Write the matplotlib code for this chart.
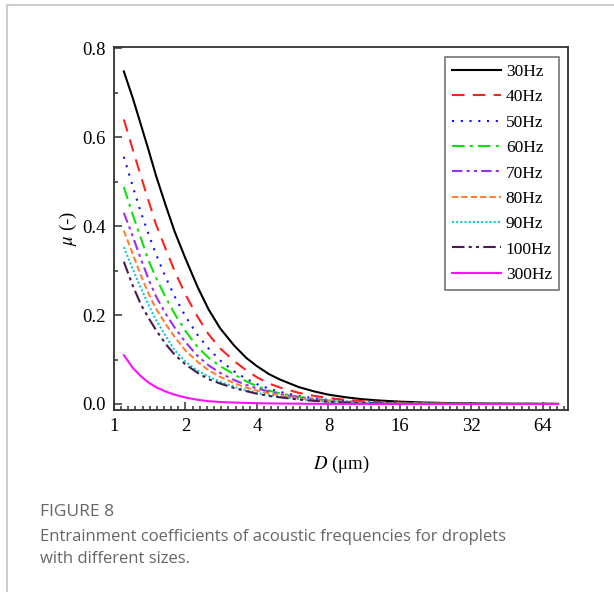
import matplotlib.pyplot as plt
import numpy as np
from matplotlib.ticker import FixedLocator, FixedFormatter, NullFormatter

serif = ["Liberation Serif", "DejaVu Serif"]
plt.rcParams["font.family"] = serif
plt.rcParams["mathtext.fontset"] = "stix"

# droplet diameters (um) at which the curves were read
D = [1.1, 1.2, 1.3, 1.4, 1.5, 1.65, 1.8, 2, 2.25, 2.5, 2.8, 3.2, 3.6, 4, 4.5,
     5, 6, 7, 8, 9.5, 11, 13, 16, 20, 24, 32, 48, 64, 74]

labels = ["30Hz", "40Hz", "50Hz", "60Hz", "70Hz", "80Hz", "90Hz", "100Hz", "300Hz"]

mu_30 = [0.748, 0.688, 0.627, 0.570, 0.515, 0.447, 0.388, 0.327, 0.263, 0.213,
         0.170, 0.132, 0.104, 0.085, 0.067, 0.055, 0.038, 0.028, 0.021, 0.015,
         0.011, 0.008, 0.0053, 0.0034, 0.0024, 0.0013, 0.0006, 0.0003, 0.00025]
mu_40 = [0.640, 0.572, 0.511, 0.456, 0.405, 0.349, 0.299, 0.246, 0.196, 0.157,
         0.125, 0.097, 0.076, 0.060, 0.046, 0.037, 0.025, 0.018, 0.0135, 0.0092,
         0.0066, 0.0046, 0.003, 0.0019, 0.0013, 0.0007, 0.0003, 0.0002, 0.0001]
mu_50 = [0.556, 0.489, 0.430, 0.381, 0.338, 0.285, 0.242, 0.197, 0.155, 0.125,
         0.098, 0.0736, 0.0565, 0.0446, 0.0343, 0.0272, 0.0178, 0.0125, 0.0092, 0.006,
         0.0042, 0.0028, 0.0017, 0.0011, 0.0007, 0.0004, 0.0002, 0.0001, 0.0001]
mu_60 = [0.488, 0.425, 0.372, 0.322, 0.285, 0.240, 0.203, 0.164, 0.128, 0.104,
         0.085, 0.067, 0.051, 0.040, 0.030, 0.024, 0.016, 0.011, 0.008, 0.0052,
         0.0036, 0.0024, 0.0015, 0.0009, 0.0006, 0.0003, 0.00015, 0.0001, 0.0001]
mu_70 = [0.430, 0.377, 0.325, 0.280, 0.243, 0.203, 0.172, 0.139, 0.108, 0.087,
         0.070, 0.054, 0.043, 0.035, 0.028, 0.022, 0.015, 0.011, 0.0078, 0.005,
         0.0034, 0.0022, 0.0014, 0.0008, 0.0005, 0.0003, 0.0001, 0.0001, 0.0001]
mu_80 = [0.390, 0.337, 0.288, 0.248, 0.215, 0.180, 0.151, 0.120, 0.095, 0.076,
         0.061, 0.047, 0.037, 0.030, 0.024, 0.019, 0.0128, 0.009, 0.0066, 0.0042,
         0.0028, 0.0018, 0.0012, 0.0007, 0.0004, 0.0002, 0.0001, 0.0001, 0.0001]
mu_90 = [0.353, 0.303, 0.260, 0.222, 0.190, 0.153, 0.121, 0.095, 0.075, 0.062,
         0.050, 0.039, 0.031, 0.025, 0.020, 0.016, 0.011, 0.0075, 0.0055, 0.0036,
         0.0024, 0.0016, 0.001, 0.0006, 0.0004, 0.0002, 0.0001, 0.0001, 0.0001]
mu_100 = [0.320, 0.266, 0.223, 0.193, 0.167, 0.135, 0.111, 0.089, 0.070, 0.056,
          0.046, 0.036, 0.029, 0.023, 0.018, 0.015, 0.010, 0.007, 0.005, 0.0033,
          0.0022, 0.0015, 0.0009, 0.0005, 0.0003, 0.0002, 0.0001, 0.0001, 0.0001]
mu_300 = [0.110, 0.081, 0.062, 0.048, 0.038, 0.028, 0.021, 0.0145, 0.0095, 0.0063,
          0.0045, 0.0032, 0.0024, 0.0018, 0.0013, 0.001, 0.0007, 0.0005, 0.0003, 0.0002,
          0.0002, 0.0001, 0.0001, 0.0, 0.0, 0.0, 0.0, 0.0, 0.0]

series = [mu_30, mu_40, mu_50, mu_60, mu_70, mu_80, mu_90, mu_100, mu_300]
colors = ["#000000", "#ff2020", "#1010ff", "#10e010", "#9a30f0",
          "#ff8030", "#10c8d0", "#4a1a50", "#ff10ff"]
styles = ["-", (0, (6, 4)), (0, (1, 3.2)), (0, (6, 2.5, 1.5, 2.5)),
          (0, (5, 2, 1.5, 2, 1.5, 2)), (0, (3, 1.5)), (0, (1, 1)),
          (0, (6, 2, 1.5, 2, 1.5, 2)), "-"]

fig = plt.figure(figsize=(6.14, 5.92), dpi=100)
ax = fig.add_axes([114 / 614, 1 - 410 / 592, 454 / 614, 363 / 592])

for vals, lab, c, ls in zip(series, labels, colors, styles):
    ax.plot(D, vals, color=c, linestyle=ls, lw=1.5, label=lab)

ax.set_xscale("log", base=2)
ax.set_xlim(1, 2 ** 6.35)
ax.set_ylim(-0.0135, 0.803)

major_x = [1, 2, 4, 8, 16, 32, 64]
ax.xaxis.set_major_locator(FixedLocator(major_x))
ax.xaxis.set_major_formatter(FixedFormatter([str(v) for v in major_x]))
ax.xaxis.set_minor_locator(FixedLocator([2 ** (k / 10) for k in range(64) if k % 10]))
ax.xaxis.set_minor_formatter(NullFormatter())
ax.set_yticks([0.0, 0.2, 0.4, 0.6, 0.8])
ax.set_yticks(np.arange(0.1, 0.8, 0.2), minor=True)
ax.set_yticklabels(["0.0", "0.2", "0.4", "0.6", "0.8"])
ax.yaxis.set_minor_formatter(NullFormatter())

ax.tick_params(which="both", direction="in", top=False, right=False,
               color="#333333", width=1.1)
ax.tick_params(which="major", length=6, labelsize=13.5, pad=6)
ax.tick_params(which="minor", length=3)
for sp in ax.spines.values():
    sp.set_color("#333333")
    sp.set_linewidth(1.3)

ax.set_ylabel(r"$\mu$ (-)", fontsize=13.5, labelpad=2)
ax.set_xlabel(r"$D$ (μm)", fontsize=13.5, labelpad=13)

leg = ax.legend(loc="upper right", bbox_to_anchor=(559 / 614, 1 - 57 / 592),
                bbox_transform=fig.transFigure, prop={"size": 12.5},
                frameon=True, fancybox=False, handlelength=2.8, labelspacing=0.53,
                borderpad=0.4, handletextpad=0.3, borderaxespad=0)
leg.get_frame().set_edgecolor("#444444")
leg.get_frame().set_linewidth(1.1)

# caption
fig.text(40 / 614, 1 - 512 / 592, "FIGURE 8", family="Open Sans", fontsize=12.5,
         color="#666666", va="center")
fig.text(40 / 614, 1 - 537 / 592,
         "Entrainment coefficients of acoustic frequencies for droplets",
         family="Open Sans", fontsize=12, color="#666666", va="center")
fig.text(40 / 614, 1 - 559 / 592, "with different sizes.",
         family="Open Sans", fontsize=12, color="#666666", va="center")

# page border
fig.add_artist(plt.Line2D([7 / 614, 7 / 614], [0, 1 - 5 / 592],
                          transform=fig.transFigure, color="#cccccc", lw=1.5))
fig.add_artist(plt.Line2D([7 / 614, 1], [1 - 5 / 592, 1 - 5 / 592],
                          transform=fig.transFigure, color="#cccccc", lw=1.5))

fig.savefig("out.png", dpi=100)
